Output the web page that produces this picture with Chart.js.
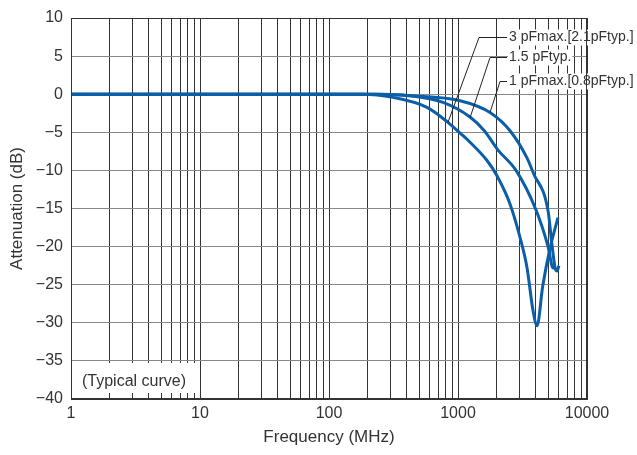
<!DOCTYPE html>
<html>
<head>
<meta charset="utf-8">
<script src="https://cdn.jsdelivr.net/npm/chart.js@4.4.0/dist/chart.umd.min.js"></script>
<style>
html, body { margin: 0; padding: 0; background: #fff; }
#wrap { width: 637px; height: 455px; }
</style>
</head>
<body>
<div id="wrap"><canvas id="atten"></canvas></div>
<script>
// curves (MHz / dB)
var freq3pF  = [1, 100, 180, 313, 575, 836, 1037, 1239, 1678, 2005, 2530, 3026, 3430, 3815, 4100, 4535, 5170, 5960];
var atten3pF = [0, 0, 0, -0.42, -1.73, -3.7, -5.1, -6.3, -8.7, -10.7, -14.4, -18.8, -22.8, -28.4, -30.4, -25.2, -20.2, -16.2];

var freq1p5pF  = [1, 100, 220, 425, 765, 1239, 1600, 2035, 2817, 4025, 4990, 5450, 5700];
var atten1p5pF = [0, 0, 0, -0.2, -1.08, -3.0, -4.8, -7.3, -10.0, -15.2, -20.0, -22.8, -22.7];

var freq1pF  = [1, 100, 250, 425, 1037, 1771, 2530, 3410, 3850, 4990, 5330, 5660, 5850, 6060];
var atten1pF = [0, 0, 0, -0.2, -0.85, -2.4, -4.8, -8.3, -10.4, -15.3, -19.5, -22.8, -23.2, -22.5];

var curveLabels = ['3 pFmax.[2.1pFtyp.]', '1.5 pFtyp.', '1 pFmax.[0.8pFtyp.]'];
// leader lines: point on the curve, bend point, and the dB level of the label
var leaderTouchFreq = [836, 1239, 1771];
var leaderTouchDb   = [-3.7, -3.1, -2.4];
var leaderBendFreq  = [1455, 1771, 2117];
var leaderLevelDb   = [7.5, 4.9, 1.7];
var leaderEndFreq   = 2400;

var xDecades = [1, 10, 100, 1000, 10000];
var xTickLabels = ['1', '10', '100', '1000', '10000'];

var lineBlue = '#0b5ea8';
var textGray = '#333';

function toPoints(xs, ys) {
    var pts = [];
    for (var i = 0; i < xs.length; i++) pts.push({x: xs[i], y: ys[i]});
    return pts;
}

// grid positions 1..9 per decade
var gridValues = [];
for (var d = 0; d < xDecades.length - 1; d++) {
    for (var m = 1; m < 10; m++) gridValues.push(m * xDecades[d]);
}
gridValues.push(xDecades[xDecades.length - 1]);

var overlay = {
    id: 'overlay',
    afterDatasetsDraw: function(chart) {
        var ctx = chart.ctx, xs = chart.scales.x, ys = chart.scales.y, area = chart.chartArea;
        ctx.save();

        // "(Typical curve)" box
        var bx0 = xs.getPixelForValue(1) + 1, bx1 = xs.getPixelForValue(10) - 1;
        ctx.fillStyle = '#fff';
        ctx.fillRect(bx0, area.bottom - 36, bx1 - bx0, 30);
        ctx.fillStyle = textGray;
        ctx.font = '16px "Liberation Sans", Arial, sans-serif';
        ctx.textBaseline = 'middle';
        ctx.textAlign = 'left';
        ctx.fillText('(Typical curve)', bx0 + 10, area.bottom - 17);

        // leaders and labels
        ctx.strokeStyle = '#222';
        ctx.lineWidth = 1;
        ctx.font = '14px "Liberation Sans", Arial, sans-serif';
        for (var i = 0; i < curveLabels.length; i++) {
            var ty = Math.round(ys.getPixelForValue(leaderLevelDb[i])) + 0.5;
            var ex = xs.getPixelForValue(leaderEndFreq);
            ctx.beginPath();
            ctx.moveTo(xs.getPixelForValue(leaderTouchFreq[i]), ys.getPixelForValue(leaderTouchDb[i]));
            ctx.lineTo(xs.getPixelForValue(leaderBendFreq[i]), ty);
            ctx.lineTo(ex, ty);
            ctx.stroke();
            var w = ctx.measureText(curveLabels[i]).width;
            ctx.fillStyle = '#fff';
            ctx.fillRect(ex + 1, ty - 8, w + 2, 16);
            ctx.fillStyle = textGray;
            ctx.fillText(curveLabels[i], ex + 2, ty);
        }

        // frame
        ctx.strokeStyle = '#333';
        ctx.strokeRect(Math.round(area.left) + 0.5, Math.round(area.top) + 0.5,
            Math.round(area.right - area.left) - 1, Math.round(area.bottom - area.top) - 1);
        ctx.restore();
    }
};

var ds = function(xs, ys) {
    return {
        data: toPoints(xs, ys),
        borderColor: lineBlue,
        borderWidth: 3,
        pointRadius: 0,
        cubicInterpolationMode: 'monotone',
        fill: false
    };
};

var attenChart = new Chart(document.getElementById('atten').getContext('2d'), {
    type: 'line',
    data: {
        datasets: [ds(freq3pF, atten3pF), ds(freq1p5pF, atten1p5pF), ds(freq1pF, atten1pF)]
    },
    options: {
        responsive: true,
        maintainAspectRatio: false,
        animation: false,
        layout: { padding: { top: 18, right: 50, left: 0, bottom: 0 } },
        plugins: { legend: { display: false }, tooltip: { enabled: false } },
        scales: {
            x: {
                type: 'logarithmic',
                min: 1,
                max: 10000,
                afterBuildTicks: function(scale) {
                    scale.ticks = gridValues.map(function(v) { return {value: v}; });
                },
                afterFit: function(scale) { scale.height = 56; },
                grid: { color: '#333', lineWidth: 1, drawTicks: false },
                border: { color: '#333' },
                ticks: {
                    autoSkip: false,
                    maxRotation: 0,
                    padding: 5,
                    color: textGray,
                    font: { family: '"Liberation Sans", Arial, sans-serif', size: 16 },
                    callback: function(v) {
                        var k = xDecades.indexOf(v);
                        return k >= 0 ? xTickLabels[k] : '';
                    }
                },
                title: {
                    display: true,
                    text: 'Frequency (MHz)',
                    color: textGray,
                    font: { family: '"Liberation Sans", Arial, sans-serif', size: 17 },
                    padding: { top: 0, bottom: 7 }
                }
            },
            y: {
                min: -40,
                max: 10,
                afterFit: function(scale) { scale.width = 71; },
                grid: { color: '#888', lineWidth: 1, drawTicks: false },
                border: { color: '#333' },
                ticks: {
                    stepSize: 5,
                    padding: 8,
                    color: textGray,
                    font: { family: '"Liberation Sans", Arial, sans-serif', size: 16 },
                    callback: function(v) { return v < 0 ? '\u2212' + Math.abs(v) : String(v); }
                },
                title: {
                    display: true,
                    text: 'Attenuation (dB)',
                    color: textGray,
                    font: { family: '"Liberation Sans", Arial, sans-serif', size: 17 },
                    padding: { top: 7, bottom: 0 }
                }
            }
        }
    },
    plugins: [overlay]
});
</script>
</body>
</html>
